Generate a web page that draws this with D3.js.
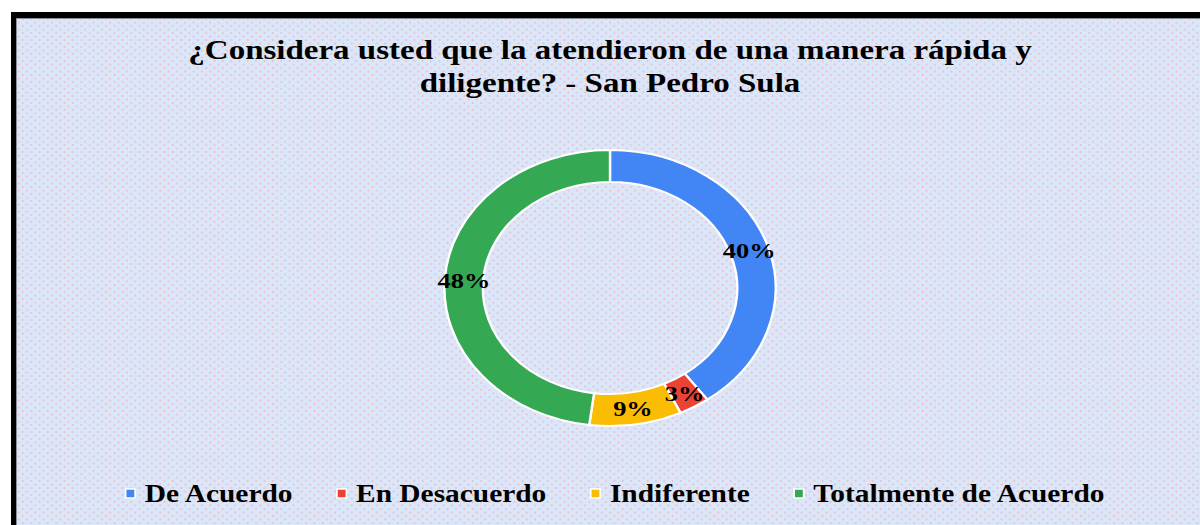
<!DOCTYPE html>
<html>
<head>
<meta charset="utf-8">
<script src="https://cdn.jsdelivr.net/npm/d3@7"></script>
<style>
  html, body { margin: 0; padding: 0; background: #ffffff; }
  svg { display: block; }
  text { font-family: "Liberation Serif", "Times New Roman", serif; font-weight: bold; fill: #000; }
</style>
</head>
<body>
<svg id="chart" width="1200" height="525"></svg>
<script>
// data
const categories = ['De Acuerdo', 'En Desacuerdo', 'Indiferente', 'Totalmente de Acuerdo']
const values = [40, 3, 9, 48]
const labels = ['40%', '3%', '9%', '48%']
const colors = ['#4285f4', '#ea4335', '#fbbc04', '#34a853']
const titleLines = ['¿Considera usted que la atendieron de una manera rápida y', 'diligente? - San Pedro Sula']

const svg = d3.select('#chart')
const width = 1200
const height = 525
const stretch = 1.2 // the original picture is widened horizontally

// dotted background
const defs = svg.append('defs')
const pat = defs.append('pattern')
  .attr('id', 'dots')
  .attr('patternUnits', 'userSpaceOnUse')
  .attr('width', 8.33)
  .attr('height', 7)
pat.append('rect').attr('width', 8.33).attr('height', 7).attr('fill', '#dae6f9')
pat.append('circle').attr('cx', 2).attr('cy', 1.5).attr('r', 0.9).attr('fill', '#f3b9bd')
pat.append('circle').attr('cx', 6.2).attr('cy', 5).attr('r', 0.9).attr('fill', '#f3b9bd')

// frame
svg.append('rect').attr('x', 11).attr('y', 12).attr('width', width - 11).attr('height', height - 12).attr('fill', '#000')
svg.append('rect').attr('x', 16).attr('y', 18).attr('width', width - 16).attr('height', height - 18).attr('fill', '#8a8f99')
svg.append('rect').attr('x', 17).attr('y', 19).attr('width', width - 17).attr('height', height - 19).attr('fill', 'url(#dots)')

const g = svg.append('g').attr('transform', `scale(${stretch},1)`)
const cx = 610 / stretch

// title
g.selectAll('.title')
  .data(titleLines)
  .join('text')
    .attr('class', 'title')
    .attr('x', cx)
    .attr('y', (d, i) => 59 + i * 33)
    .attr('text-anchor', 'middle')
    .style('font-size', '27.5px')
    .text(d => d)

// donut
const outerR = 138
const innerR = 106
const pie = d3.pie().sort(null).value(d => d)
const arc = d3.arc().innerRadius(innerR).outerRadius(outerR)
const labelArc = d3.arc().innerRadius(122).outerRadius(122)
const arcs = pie(values)

const donut = g.append('g').attr('transform', `translate(${cx},288)`)
donut.selectAll('path')
  .data(arcs)
  .join('path')
    .attr('d', arc)
    .attr('fill', (d, i) => colors[i])
    .attr('stroke', '#ffffff')
    .attr('stroke-width', 2)

donut.selectAll('.lbl')
  .data(arcs)
  .join('text')
    .attr('class', 'lbl')
    .attr('transform', d => `translate(${labelArc.centroid(d)})`)
    .attr('text-anchor', 'middle')
    .attr('dy', '0.35em')
    .style('font-size', '22px')
    .text((d, i) => labels[i])

// legend, centred
const legend = g.append('g')
const items = legend.selectAll('.item')
  .data(categories)
  .join('g')
    .attr('class', 'item')
items.append('rect')
  .attr('y', 489)
  .attr('width', 8)
  .attr('height', 9)
  .attr('fill', (d, i) => colors[i])
  .attr('stroke', '#ffffff')
  .attr('stroke-width', 1.5)
items.append('text')
  .attr('x', 16)
  .attr('y', 502)
  .style('font-size', '24.5px')
  .text(d => d)

let xpos = 0
const gap = 37
items.each(function () {
  const w = this.querySelector('text').getComputedTextLength()
  d3.select(this).attr('transform', `translate(${xpos},0)`)
  xpos += 16 + w + gap
})
const total = xpos - gap
legend.attr('transform', `translate(${615 / stretch - total / 2},0)`)
</script>
</body>
</html>
